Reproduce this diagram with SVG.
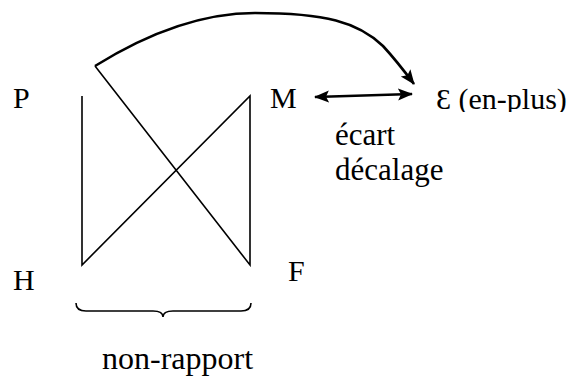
<svg xmlns="http://www.w3.org/2000/svg" width="576" height="376" viewBox="0 0 576 376">
  <style>
    text { font-size: 30px; fill: #000; }
    .thin { stroke: #000; stroke-width: 1.6; fill: none; }
    .thick { stroke: #000; stroke-width: 2.6; fill: none; }
  </style>
  <defs>
    <marker id="ah" markerUnits="userSpaceOnUse" markerWidth="16" markerHeight="14" refX="14" refY="6" orient="auto-start-reverse" viewBox="0 0 16 12">
      <path d="M0,0 L15,6 L0,12 L3,6 Z" fill="#000"/>
    </marker>
    <clipPath id="clipE">
      <rect x="430" y="70" width="146" height="42"/>
    </clipPath>
  </defs>
  <rect width="576" height="376" fill="#fff"/>

  <g font-family="Liberation Serif, Times New Roman, serif">
  <g id="P"><text x="13" y="108">P</text></g>
  <g id="M"><text x="270" y="108">M</text></g>
  <g id="E" clip-path="url(#clipE)"><text x="436" y="109">Ɛ (en-plus)</text></g>
  <g id="H"><text x="13" y="290">H</text></g>
  <g id="F"><text x="288" y="281">F</text></g>
  <g id="ecart" font-size="31"><text x="335" y="145" style="font-size:31px">écart</text><text x="335" y="180" style="font-size:31px">décalage</text></g>
  <g id="nonrapport"><text x="102" y="369" style="font-size:32px">non-rapport</text></g>
  </g>

  <g id="connectors">
    <path class="thin" d="M82,96 L82,265 L250,96 L250,265 L95,66"/>
    <path class="thick" d="M95,66 C140,38 195,13 255,13 C325,13 358,22 383,46 C395,59 405,72 414,84" marker-end="url(#ah)"/>
    <path class="thick" d="M315,97 L412,94" marker-start="url(#ah)" marker-end="url(#ah)"/>
    <path class="thin" d="M76,303 Q76,311 86,311 L153,311 Q163,311 163,317 Q163,311 173,311 L241,311 Q251,311 251,303"/>
  </g>
</svg>
